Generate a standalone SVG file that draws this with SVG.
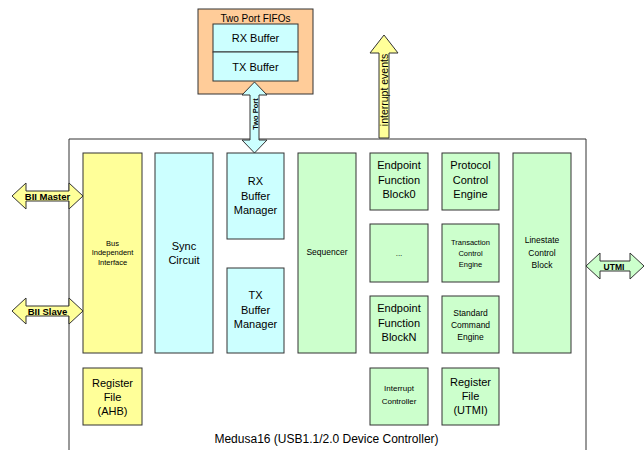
<svg xmlns="http://www.w3.org/2000/svg" width="644" height="450" viewBox="0 0 644 450">
<style>
.b{stroke:#333;stroke-width:1}
.y{fill:#FFFF99}.c{fill:#CCFFFF}.g{fill:#CCFFCC}.o{fill:#FFCC99}
text{font-family:"Liberation Sans",Arial,sans-serif;fill:#000;text-anchor:middle}
.t11{font-size:11px}.t8{font-size:8px}.t7{font-size:7px}
.bd{font-weight:bold;font-size:9.5px}
</style>
<rect width="644" height="450" fill="#fff"/>
<g id="device">
<path d="M69 452 V139 H586 V452" fill="none" class="b"/>
<text x="326.5" y="443" style="font-size:12px">Medusa16 (USB1.1/2.0 Device Controller)</text>
</g>
<g id="fifos">
<rect x="198" y="9" width="115" height="85" class="b o"/>
<text x="255.5" y="22" style="font-size:10px">Two Port FIFOs</text>
<rect x="213" y="24" width="85" height="28" class="b c"/>
<text x="255.5" y="42" class="t11">RX Buffer</text>
<rect x="213" y="52" width="85" height="29" class="b c"/>
<text x="255.5" y="71" class="t11">TX Buffer</text>
</g>
<g id="connectors">
<path d="M254.5 82 L267 95 H259 V140 H267 L254.5 153 L242 140 H250 V95 H242 Z" class="b c"/>
<text transform="translate(257.5,114) rotate(-90)" class="bd" style="font-size:7.5px">Two Port</text>
<path d="M384 35 L398 53 H389 V138 H379 V53 H370 Z" class="b y"/>
<text transform="translate(387.5,90) rotate(-90)" style="font-size:10.5px">interrupt events</text>
<path d="M12 196 L26 183 V191 H69 V183 L83 196 L69 209 V201 H26 V209 Z" class="b y"/>
<text x="47.5" y="199.5" class="bd">BII Master</text>
<path d="M12 311 L26 298 V306 H69 V298 L83 311 L69 324 V316 H26 V324 Z" class="b y"/>
<text x="47.5" y="314.5" class="bd">BII Slave</text>
<path d="M586 266 L600 253 V261 H630 V253 L644 266 L630 279 V271 H600 V279 Z" class="b g"/>
<text x="614" y="269.5" class="bd" style="font-size:8.5px">UTMI</text>
</g>
<g id="bii">
<rect x="83" y="153" width="59" height="200" class="b y"/>
<text x="112.5" y="245.5" style="font-size:7.5px"><tspan x="112.5">Bus</tspan><tspan x="112.5" dy="9.5">Independent</tspan><tspan x="112.5" dy="9.5">Interface</tspan></text>
</g>
<g id="regahb">
<rect x="83" y="368" width="59" height="57" class="b y"/>
<text x="112.5" y="387" class="t11"><tspan x="112.5">Register</tspan><tspan x="112.5" dy="14">File</tspan><tspan x="112.5" dy="14">(AHB)</tspan></text>
</g>
<g id="sync">
<rect x="155" y="153" width="58" height="200" class="b c"/>
<text x="184" y="250" class="t11"><tspan x="184">Sync</tspan><tspan x="184" dy="13.5">Circuit</tspan></text>
</g>
<g id="rxbm">
<rect x="227" y="153" width="57" height="86" class="b c"/>
<text x="255.5" y="185" class="t11"><tspan x="255.5">RX</tspan><tspan x="255.5" dy="14.5">Buffer</tspan><tspan x="255.5" dy="14.5">Manager</tspan></text>
</g>
<g id="txbm">
<rect x="227" y="268" width="57" height="85" class="b c"/>
<text x="255.5" y="299" class="t11"><tspan x="255.5">TX</tspan><tspan x="255.5" dy="14.5">Buffer</tspan><tspan x="255.5" dy="14.5">Manager</tspan></text>
</g>
<g id="seq">
<rect x="298" y="153" width="58" height="200" class="b g"/>
<text x="327" y="255" style="font-size:8.5px">Sequencer</text>
</g>
<g id="efb0">
<rect x="370" y="153" width="58" height="57" class="b g"/>
<text x="399" y="169" class="t11"><tspan x="399">Endpoint</tspan><tspan x="399" dy="14.5">Function</tspan><tspan x="399" dy="14.5">Block0</tspan></text>
</g>
<g id="pce">
<rect x="442" y="153" width="57" height="57" class="b g"/>
<text x="470.5" y="169" class="t11"><tspan x="470.5">Protocol</tspan><tspan x="470.5" dy="14.5">Control</tspan><tspan x="470.5" dy="14.5">Engine</tspan></text>
</g>
<g id="dots">
<rect x="370" y="224" width="58" height="58" class="b g"/>
<text x="399" y="256" class="t8">...</text>
</g>
<g id="tce">
<rect x="442" y="224" width="57" height="58" class="b g"/>
<text x="470.5" y="244.5" style="font-size:7.5px"><tspan x="470.5">Transaction</tspan><tspan x="470.5" dy="11">Control</tspan><tspan x="470.5" dy="11">Engine</tspan></text>
</g>
<g id="efbn">
<rect x="370" y="296" width="58" height="57" class="b g"/>
<text x="399" y="312" class="t11"><tspan x="399">Endpoint</tspan><tspan x="399" dy="14.5">Function</tspan><tspan x="399" dy="14.5">BlockN</tspan></text>
</g>
<g id="sce">
<rect x="442" y="296" width="57" height="57" class="b g"/>
<text x="470.5" y="316" style="font-size:8.5px"><tspan x="470.5">Standard</tspan><tspan x="470.5" dy="12">Command</tspan><tspan x="470.5" dy="12">Engine</tspan></text>
</g>
<g id="intc">
<rect x="370" y="368" width="58" height="57" class="b g"/>
<text x="399" y="391" style="font-size:8px"><tspan x="399">Interrupt</tspan><tspan x="399" dy="13">Controller</tspan></text>
</g>
<g id="regutmi">
<rect x="442" y="368" width="57" height="57" class="b g"/>
<text x="470.5" y="386" class="t11"><tspan x="470.5">Register</tspan><tspan x="470.5" dy="14">File</tspan><tspan x="470.5" dy="14">(UTMI)</tspan></text>
</g>
<g id="lcb">
<rect x="513" y="153" width="58" height="200" class="b g"/>
<text x="542" y="243" style="font-size:8.5px"><tspan x="542">Linestate</tspan><tspan x="542" dy="12.5">Control</tspan><tspan x="542" dy="12.5">Block</tspan></text>
</g>
</svg>
